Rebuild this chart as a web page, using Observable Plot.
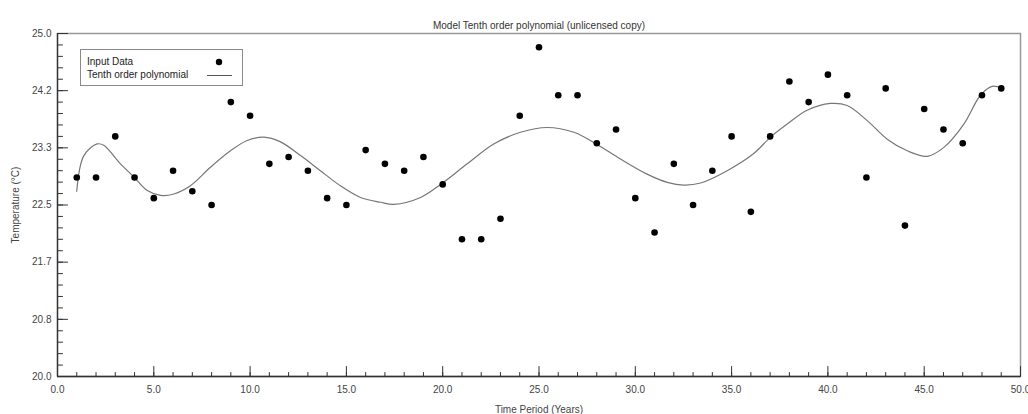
<!DOCTYPE html>
<html>
<head>
<meta charset="utf-8">
<script src="https://cdn.jsdelivr.net/npm/d3@7"></script>
<script src="https://cdn.jsdelivr.net/npm/@observablehq/plot@0.6"></script>
<style>
  html, body { margin: 0; padding: 0; background: #fff; }
  #wrap { position: relative; width: 1028px; height: 414px; font-family: "Liberation Sans", Arial, sans-serif; }
  #legend { position: absolute; left: 80px; top: 49px; width: 163px; height: 37px; border: 1px solid #8a8a8a; background: #fff; font-size: 10px; color: #222; box-sizing: border-box; }
  #legend .row { position: absolute; left: 6px; }
  #legend svg { position: absolute; left: 0; top: 0; }
</style>
</head>
<body>
<div id="wrap">
  <div id="chart"></div>
  <div id="legend">
    <div class="row" style="top:6px">Input Data</div>
    <div class="row" style="top:19px">Tenth order polynomial</div>
    <svg width="163" height="37">
      <circle cx="138" cy="12" r="3.2" fill="#000"></circle>
      <line x1="126" x2="151" y1="25.5" y2="25.5" stroke="#555" stroke-width="1"></line>
    </svg>
  </div>
</div>
<script>
// Input data (Time period in years, temperature in °C)
const years = [1,2,3,4,5,6,7,8,9,10,11,12,13,14,15,16,17,18,19,20,21,22,23,24,25,26,27,28,29,30,31,32,33,34,35,36,37,38,39,40,41,42,43,44,45,46,47,48,49];
const temps = [22.9,22.9,23.5,22.9,22.6,23.0,22.7,22.5,24.0,23.8,23.1,23.2,23.0,22.6,22.5,23.3,23.1,23.0,23.2,22.8,22.0,22.0,22.3,23.8,24.8,24.1,24.1,23.4,23.6,22.6,22.1,23.1,22.5,23.0,23.5,22.4,23.5,24.3,24.0,24.4,24.1,22.9,24.2,22.2,23.9,23.6,23.4,24.1,24.2];

// Tenth order polynomial curve
const fitT = [1.0,1.37,2.06,2.4,3.27,3.96,4.66,5.35,6.04,6.9,7.94,8.98,9.85,10.71,11.58,12.62,13.65,14.69,15.73,16.77,17.46,18.85,19.89,21.27,22.65,24.04,25.42,26.81,27.97,29.23,30.61,31.66,32.52,33.39,34.77,36.15,37.02,37.89,38.92,40.13,41.0,42.04,43.08,44.12,45.16,46.02,47.06,47.92,48.53,49.0];
const fitV = [22.70,23.22,23.39,23.37,23.10,22.91,22.71,22.64,22.66,22.78,23.05,23.29,23.44,23.49,23.42,23.22,23.00,22.78,22.61,22.54,22.51,22.61,22.80,23.10,23.39,23.56,23.63,23.56,23.39,23.17,22.95,22.83,22.79,22.82,23.00,23.25,23.49,23.68,23.88,23.98,23.95,23.73,23.46,23.29,23.21,23.34,23.68,24.10,24.23,24.21];

// Axis ticks
const xMajor = [0,5,10,15,20,25,30,35,40,45,50];
const xMinor = d3.range(0, 51, 1);
const yMajor = [20, 20 + 5/6, 20 + 10/6, 22.5, 20 + 20/6, 20 + 25/6, 25];
const yMajorLabels = ["20.0","20.8","21.7","22.5","23.3","24.2","25.0"];
const yMinor = d3.range(0, 31).map(i => 20 + i / 6);

const points = years.map((t, i) => ({t, v: temps[i]}));
const fit = fitT.map((t, i) => ({t, v: fitV[i]}));

// a plain line shape for tick vectors
const tickShape = {draw(context, l) { context.moveTo(0, 0); context.lineTo(0, -l); }};

const chart = Plot.plot({
  width: 1028,
  height: 414,
  marginLeft: 57,
  marginRight: 8,
  marginTop: 33,
  marginBottom: 38,
  style: {fontFamily: "'Liberation Sans', Arial, sans-serif", fontSize: "10px", color: "#333", background: "#fff", overflow: "visible"},
  x: {domain: [0, 50]},
  y: {domain: [20, 25]},
  marks: [
    Plot.frame({stroke: "#999", strokeWidth: 1.5}),
    // inward ticks
    Plot.vector(xMinor, {x: d => d, y: d => 20, length: 4, rotate: 0, anchor: "start", shape: tickShape, stroke: "#333", strokeWidth: 1}),
    Plot.vector(xMajor, {x: d => d, y: d => 20, length: 10, rotate: 0, anchor: "start", shape: tickShape, stroke: "#333", strokeWidth: 1}),
    Plot.vector(yMinor, {x: d => 0, y: d => d, length: 5, rotate: 90, anchor: "start", shape: tickShape, stroke: "#333", strokeWidth: 1}),
    Plot.vector(yMajor, {x: d => 0, y: d => d, length: 10, rotate: 90, anchor: "start", shape: tickShape, stroke: "#333", strokeWidth: 1}),
    Plot.ruleY([20], {stroke: "#333", strokeWidth: 1.3}),
    Plot.ruleX([0], {stroke: "#333", strokeWidth: 1.3}),
    // labels
    Plot.axisX({ticks: xMajor, tickSize: 0, tickPadding: 9, tickFormat: d => d.toFixed(1), fill: "#444",
      label: "Time Period (Years)", labelAnchor: "center", labelArrow: "none", labelOffset: 36}),
    Plot.axisY({ticks: yMajor, tickSize: 0, tickPadding: 6, tickFormat: (d, i) => yMajorLabels[i], fill: "#444",
      label: "Temperature (°C)", labelAnchor: "center", labelArrow: "none", labelOffset: 46}),
    Plot.line(fit, {x: "t", y: "v", stroke: "#777", strokeWidth: 1.2, curve: "catmull-rom"}),
    Plot.dot(points, {x: "t", y: "v", r: 3.3, fill: "#000", stroke: "none"}),
    Plot.text(["Model Tenth order polynomial (unlicensed copy)"], {frameAnchor: "top", dy: -12, fill: "#333", fontSize: 10})
  ]
});
document.getElementById("chart").appendChild(chart);
</script>
</body>
</html>
